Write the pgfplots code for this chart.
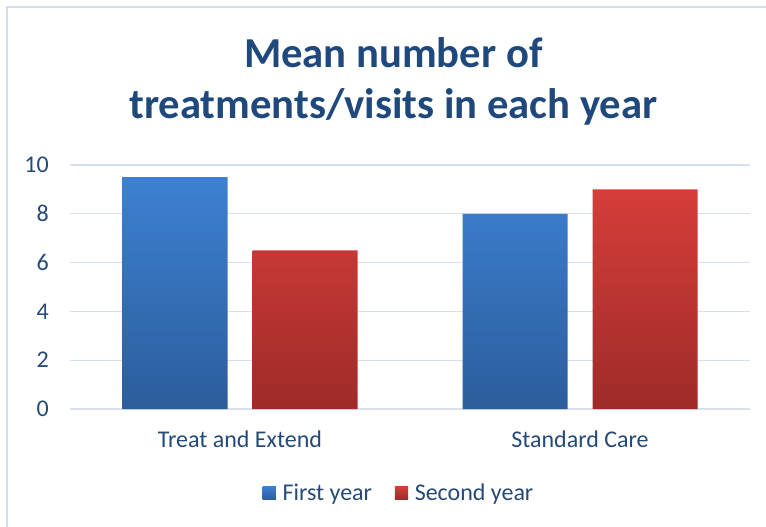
\documentclass[border=0pt]{standalone}
\usepackage{pgfplots}
\pgfplotsset{compat=1.18}
\usepackage{fontspec}
\setmainfont{Carlito}
\definecolor{titleblue}{HTML}{1F497D}
\definecolor{lblblue}{HTML}{254A78}
\definecolor{gridc}{HTML}{D6E0EF}
\definecolor{frame}{HTML}{D2DDEE}
\definecolor{btop}{HTML}{3D80D2}
\definecolor{bbot}{HTML}{2C5D9C}
\definecolor{rtop}{HTML}{D63D39}
\definecolor{rbot}{HTML}{9E2B29}
\begin{document}
\begin{tikzpicture}
\path[use as bounding box] (0,0) rectangle (574.5pt,394.5pt);
\draw[frame, line width=1pt] (5.25pt,-10pt) rectangle (590pt,389.25pt);
\node[anchor=base, text=titleblue, font=\fontsize{32}{38}\selectfont\bfseries, inner sep=0pt] at (295pt,343.5pt) {Mean number of};
\node[anchor=base, text=titleblue, font=\fontsize{32}{38}\selectfont\bfseries, inner sep=0pt] at (295pt,306pt) {treatments/visits in each year};
\begin{axis}[
  at={(52.5pt,87.75pt)}, anchor=south west,
  scale only axis, width=510pt, height=183pt,
  ybar, bar width=78.75pt,
  xmin=-0.5, xmax=1.5, ymin=0, ymax=10,
  xtick=data, xticklabels={Treat and Extend, Standard Care},
  ytick={0,2,4,6,8,10},
  axis x line*=bottom, axis y line*=left,
  x axis line style={gridc, line width=1pt, -},
  y axis line style={draw=none},
  ymajorgrids, grid style={gridc, line width=1pt},
  major tick length=0pt,
  tick label style={text=lblblue, font=\fontsize{18}{21}\selectfont},
  /pgf/number format/assume math mode=true,
  xticklabel style={anchor=base, yshift=-28.5pt, inner sep=0pt},
  yticklabel style={anchor=east, inner sep=0pt, xshift=-15.75pt},
  legend style={at={(0.5,-0.344)}, anchor=center, xshift=-8pt, draw=none, fill=none, legend columns=2,
    font=\fontsize{18}{21}\selectfont, text=lblblue,
    /tikz/every odd column/.append style={column sep=3pt},
    /tikz/every even column/.append style={column sep=15pt}},
  legend image code/.code={\draw[#1, draw=none] (0pt,-5pt) rectangle (10pt,5pt);},
]
\addplot[draw=none, bar shift=-48.75pt, top color=btop, bottom color=bbot] coordinates {(0,9.5) (1,8.0)};
\addplot[draw=none, bar shift=48.75pt, top color=rtop, bottom color=rbot] coordinates {(0,6.5) (1,9.0)};
\legend{First year, Second year}
\end{axis}
\end{tikzpicture}
\end{document}
